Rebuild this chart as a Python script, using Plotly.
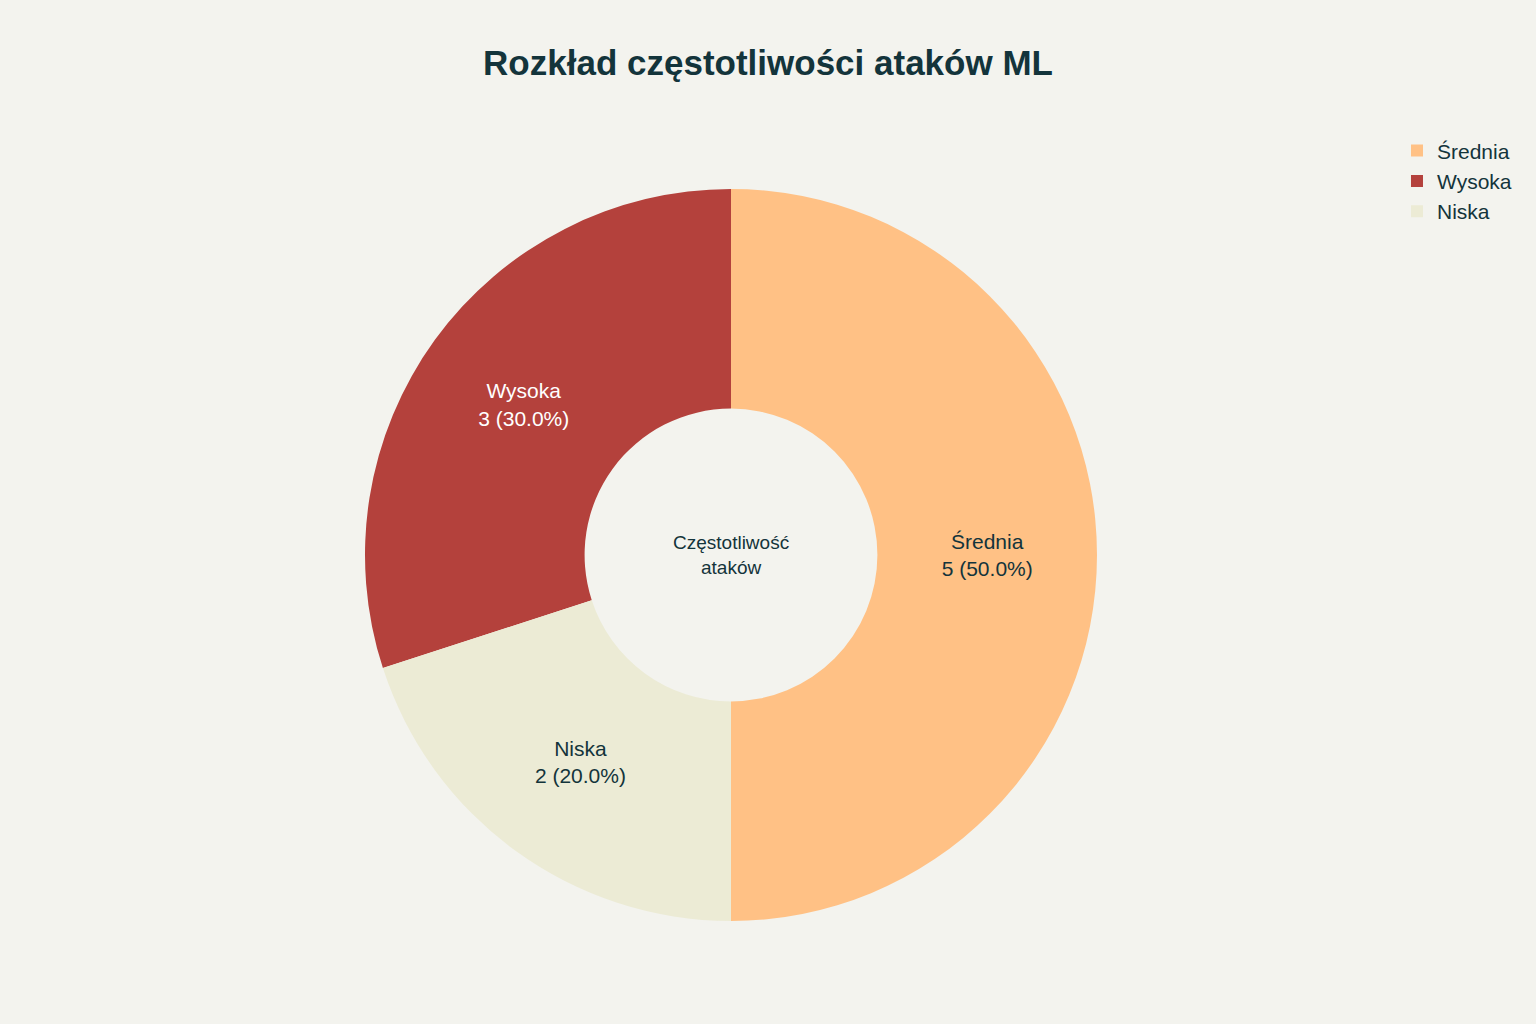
import plotly.graph_objects as go

labels = ["Średnia", "Wysoka", "Niska"]
values = [5, 3, 2]
colors = ["#FFC185", "#B4413C", "#ECEBD5"]
text_colors = ["#13343B", "#FFFFFF", "#13343B"]

FONT = "Liberation Sans"

fig = go.Figure(go.Pie(
    labels=labels,
    values=values,
    hole=0.4,
    sort=False,
    direction="counterclockwise",
    rotation=0,
    marker=dict(colors=colors, line=dict(width=0)),
    texttemplate="%{label}<br>%{value} (%{percent:.1%})",
    textposition="inside",
    insidetextorientation="horizontal",
    insidetextfont=dict(color=text_colors, size=21, family=FONT),
    domain=dict(x=[0, 1462/1536], y=[0, 1]),
    showlegend=True,
))

fig.update_layout(
    width=1536, height=1024,
    paper_bgcolor="#F3F3EE", plot_bgcolor="#F3F3EE",
    font=dict(family=FONT, color="#13343B"),
    margin=dict(l=0, r=0, t=189, b=103),
    title=dict(text="<b>Rozkład częstotliwości ataków ML</b>", x=0.5, xanchor="center",
               y=1-63/1024, yanchor="middle", xref="paper",
               font=dict(size=35, family=FONT, color="#13343B")),
    legend=dict(x=0.9095, y=1.08, xanchor="left", yanchor="top",
                font=dict(size=21, family=FONT, color="#13343B"),
                bgcolor="rgba(0,0,0,0)"),
    annotations=[dict(text="Częstotliwość<br>ataków", x=0.5*1462/1536, y=0.5,
                      xref="paper", yref="paper", showarrow=False,
                      font=dict(size=19, family=FONT, color="#13343B"))],
)

fig.write_html("out.html", config={"displayModeBar": False},
               post_script="document.body.style.margin='0';")
